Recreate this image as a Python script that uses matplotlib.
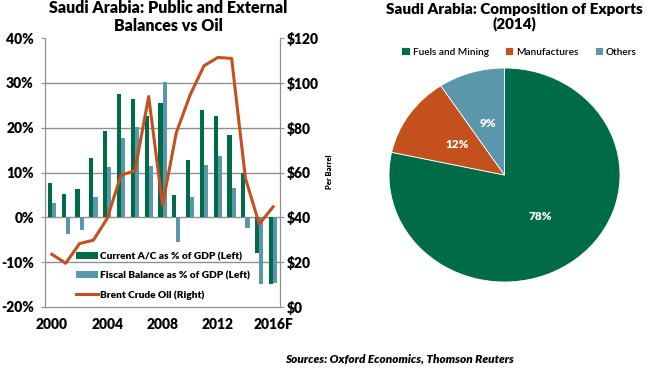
import matplotlib
matplotlib.use('Agg')
import matplotlib.pyplot as plt
from matplotlib.patches import Patch
from matplotlib.lines import Line2D

plt.rcParams['font.family'] = ['Lato', 'DejaVu Sans']

# Datos del gráfico de barras + línea
years = list(range(2000, 2017))
year_ticks = [2000, 2004, 2008, 2012, 2016]
year_labels = ['2000', '2004', '2008', '2012', '2016F']
current_ac = [7.7, 5.2, 6.3, 13.2, 19.2, 27.5, 26.4, 22.5, 25.6, 5.0,
              12.8, 23.9, 22.7, 18.4, 9.9, -8.0, -14.9]
fiscal_bal = [3.3, -3.8, -2.8, 4.6, 11.2, 17.8, 20.1, 11.4, 30.1, -5.4,
              4.5, 11.7, 13.7, 6.5, -2.3, -14.9, -14.6]
brent = [23.5, 19.5, 28.3, 29.8, 39.5, 58.9, 60.7, 93.9, 45.5, 77.8,
         94.6, 107.6, 111.3, 110.9, 57.4, 37.0, 44.7]

# Datos del pastel
export_cats = ['Fuels and Mining', 'Manufactures', 'Others']
export_share = [78.4, 12.3, 9.3]

GREEN = '#006b48'
BLUE = '#5b97ab'
ORANGE = '#c4501e'
GRID = '#8f8f8f'

fig = plt.figure(figsize=(6.5, 3.68), dpi=100)

# --- Panel izquierdo ---
ax = fig.add_axes([45 / 650, 61 / 368, 235 / 650, 269 / 368])
w = 0.3
ax.bar([y - w / 2 for y in years], current_ac, width=w, color=GREEN, zorder=3)
ax.bar([y + w / 2 for y in years], fiscal_bal, width=w, color=BLUE, zorder=3)
ax.set_xlim(1999.5, 2016.5)
ax.set_ylim(-20, 40)
ax.set_yticks(range(-20, 41, 10))
ax.set_yticklabels([f'{v}%' for v in range(-20, 41, 10)])
ax.set_xticks(year_ticks)
ax.set_xticklabels(year_labels)
for v in range(-10, 31, 10):
    ax.axhline(v, color=GRID, lw=1, zorder=1)
for s in ['left', 'right', 'bottom']:
    ax.spines[s].set_color(GRID)
ax.spines['top'].set_visible(False)
ax.tick_params(axis='y', length=3, color=GRID, pad=5, labelsize=10)
ax.tick_params(axis='x', length=0, pad=8, labelsize=10)
for lab in ax.get_xticklabels() + ax.get_yticklabels():
    lab.set_fontweight('heavy')

ax2 = ax.twinx()
ax2.plot(years, brent, color=ORANGE, lw=2.2, zorder=4)
ax2.set_ylim(0, 120)
ax2.set_yticks(range(0, 121, 20))
ax2.set_yticklabels([f'${v}' for v in range(0, 121, 20)])
ax2.tick_params(axis='y', length=3, color=GRID, pad=2, labelsize=10)
for lab in ax2.get_yticklabels():
    lab.set_fontweight('heavy')
for s in ['left', 'right', 'bottom']:
    ax2.spines[s].set_color(GRID)
ax2.spines['top'].set_visible(False)

handles = [Patch(facecolor=GREEN), Patch(facecolor=BLUE),
           Line2D([], [], color=ORANGE, lw=2.2)]
labels = ['Current A/C as % of GDP (Left)', 'Fiscal Balance as % of GDP (Left)',
          'Brent Crude Oil (Right)']
leg = ax2.legend(handles, labels, loc='upper left', bbox_to_anchor=(0.13, 0.205),
                 frameon=False, prop={'size': 7.3, 'weight': 'heavy'},
                 handlelength=2.2, handleheight=0.6, handletextpad=0.2,
                 labelspacing=1.0, borderpad=0, borderaxespad=0)

fig.text(168 / 650, 1 - 17 / 368, 'Saudi Arabia: Public and External\nBalances vs Oil',
         ha='center', va='center', fontsize=11.5, fontweight='heavy', linespacing=1.1)
fig.text(330 / 650, 1 - 172 / 368, 'Per Barrel', rotation=90, ha='center', va='center',
         fontsize=5.5, fontweight='heavy')

# --- Panel derecho: pastel ---
pax = fig.add_axes([389 / 650, 86 / 368, 231 / 650, 214 / 368])
wedges, _, autotexts = pax.pie(export_share, colors=[GREEN, ORANGE, BLUE],
                               startangle=90, counterclock=False,
                               autopct=lambda p: f'{p:.0f}%', pctdistance=0.5,
                               wedgeprops=dict(edgecolor='white', linewidth=0.6),
                               textprops=dict(color='white', fontsize=8.5, fontweight='heavy'))
pax.set_aspect('auto')
pax.set_xlim(-1, 1)
pax.set_ylim(-1, 1)

fig.legend(wedges, export_cats, loc='center', bbox_to_anchor=(519 / 650, 1 - 52 / 368),
           ncol=3, frameon=False, prop={'size': 7.3, 'weight': 'semibold'},
           handlelength=0.8, handleheight=0.8, handletextpad=0.3, columnspacing=1.6)

fig.text(514 / 650, 1 - 17 / 368, 'Saudi Arabia: Composition of Exports\n(2014)',
         ha='center', va='center', fontsize=11, fontweight='heavy', linespacing=1.1)

fig.text(400 / 650, 1 - 359 / 368, 'Sources: Oxford Economics, Thomson Reuters',
         ha='center', va='center', fontsize=8.5, fontweight='heavy', fontstyle='italic')

fig.savefig('out.png', dpi=100)
